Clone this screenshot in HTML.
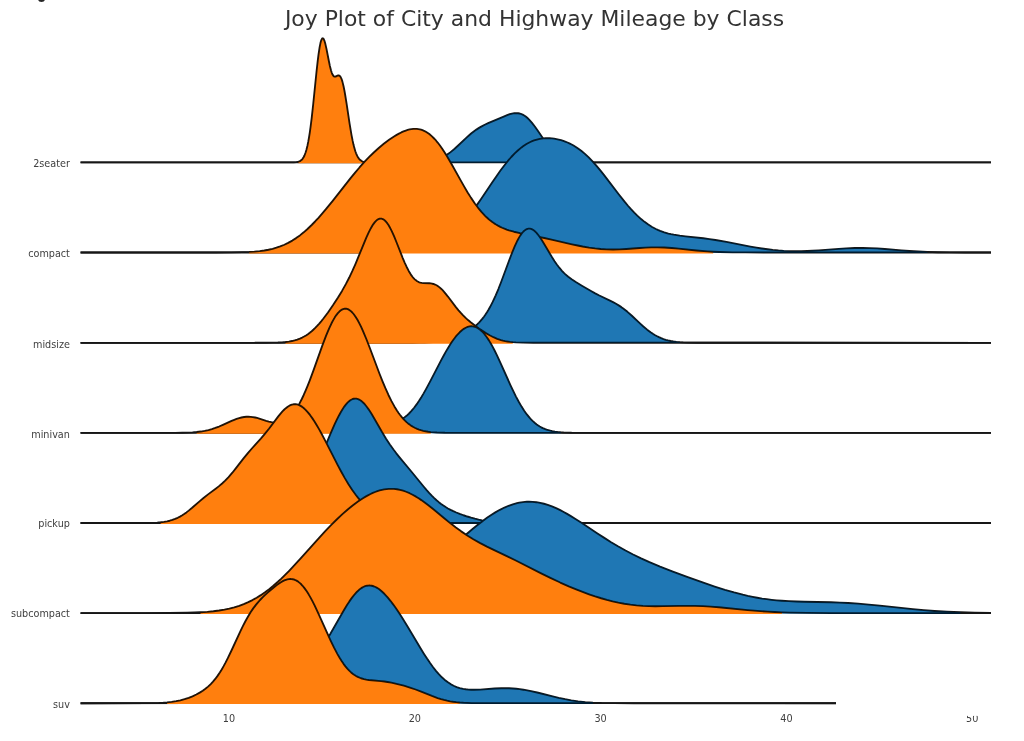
<!DOCTYPE html>
<html><head><meta charset="utf-8"><title>Joy Plot</title>
<style>
html,body{margin:0;padding:0;background:#fff;}
body{width:1024px;height:741px;overflow:hidden;font-family:"DejaVu Sans","Liberation Sans",sans-serif;}
svg{display:block}
svg text{font-family:"DejaVu Sans","Liberation Sans",sans-serif;font-size:11.1px;fill:#404040}
svg path.ln{fill:none;stroke:#161616;stroke-width:1.85;stroke-linejoin:round;stroke-linecap:butt;mix-blend-mode:luminosity}
svg text.title{font-size:21.9px;fill:#333}
</style></head><body>
<svg width="1024" height="741" viewBox="0 0 1024 741">
<rect width="1024" height="741" fill="#ffffff"/>
<text class="title" x="534.5" y="26.2" text-anchor="middle">Joy Plot of City and Highway Mileage by Class</text>
<g id="r-2seater"><path d="M427.04,161.61 430.08,161.19 432.74,160.68 435.39,160.02 437.67,159.31 439.95,158.45 442.22,157.41 444.50,156.21 446.78,154.82 448.67,153.53 450.57,152.12 454.37,148.99 458.16,145.54 466.51,137.63 469.17,135.24 471.44,133.32 474.10,131.23 476.38,129.60 479.03,127.88 481.69,126.35 484.73,124.78 488.14,123.21 503.70,116.54 507.12,115.15 509.77,114.22 512.05,113.60 514.33,113.21 516.23,113.11 518.12,113.24 519.64,113.52 521.16,113.99 522.68,114.65 524.20,115.50 525.71,116.55 527.23,117.79 529.13,119.59 531.79,122.56 534.82,126.47 537.48,130.21 544.31,140.17 546.59,143.33 548.48,145.80 550.76,148.55 552.66,150.63 554.56,152.50 556.45,154.17 558.35,155.63 560.63,157.12 562.90,158.35 565.18,159.35 567.46,160.13 570.11,160.83 572.77,161.34 575.81,161.74 L575.8,162.7 L427.0,162.7Z" fill="#1f77b4"/><path d="M80.56,162.40 403.13,162.39 411.86,162.34 417.94,162.21 422.87,161.98 427.04,161.61 430.08,161.19 432.74,160.68 435.39,160.02 437.67,159.31 439.95,158.45 442.22,157.41 444.50,156.21 446.78,154.82 448.67,153.53 450.57,152.12 454.37,148.99 458.16,145.54 466.51,137.63 469.17,135.24 471.44,133.32 474.10,131.23 476.38,129.60 479.03,127.88 481.69,126.35 484.73,124.78 488.14,123.21 503.70,116.54 507.12,115.15 509.77,114.22 512.05,113.60 514.33,113.21 516.23,113.11 518.12,113.24 519.64,113.52 521.16,113.99 522.68,114.65 524.20,115.50 525.71,116.55 527.23,117.79 529.13,119.59 531.79,122.56 534.82,126.47 537.48,130.21 544.31,140.17 546.59,143.33 548.48,145.80 550.76,148.55 552.66,150.63 554.56,152.50 556.45,154.17 558.35,155.63 560.63,157.12 562.90,158.35 565.18,159.35 567.46,160.13 570.11,160.83 572.77,161.34 575.81,161.74 579.60,162.05 584.16,162.25 590.23,162.35 598.96,162.39 990.98,162.40" class="ln"/><path d="M298.39,161.71 299.15,161.45 299.91,161.10 300.67,160.63 301.43,160.03 302.57,158.79 303.71,157.03 304.46,155.49 305.60,152.53 306.36,150.04 307.50,145.42 308.26,141.69 309.02,137.41 309.78,132.57 310.54,127.15 311.68,118.02 313.19,104.25 316.61,70.76 317.75,60.61 318.51,54.61 319.64,47.13 320.40,43.32 320.78,41.81 321.16,40.56 321.54,39.59 321.92,38.89 322.30,38.46 322.68,38.30 323.06,38.40 323.44,38.76 323.82,39.36 324.58,41.21 325.34,43.85 326.48,48.88 328.75,60.54 329.89,65.96 331.03,70.45 331.79,72.79 332.17,73.74 332.55,74.55 333.31,75.75 333.69,76.15 334.07,76.42 334.45,76.59 334.82,76.65 335.58,76.54 337.48,75.66 338.24,75.43 338.62,75.41 339.00,75.48 339.38,75.64 339.76,75.91 340.14,76.31 340.52,76.83 341.28,78.30 342.04,80.37 342.41,81.62 343.55,86.26 344.31,90.02 345.07,94.23 346.59,103.69 349.63,123.82 351.52,135.12 352.66,140.92 353.42,144.33 354.18,147.36 355.32,151.19 356.08,153.31 357.22,155.89 357.97,157.26 359.11,158.87 360.25,160.03 361.39,160.84 362.15,161.24 362.91,161.54 L362.9,163.3 L298.4,163.3Z" fill="#ff7f0e"/><path d="M80.56,162.40 290.04,162.39 293.84,162.32 296.50,162.11 298.39,161.71 299.15,161.45 299.91,161.10 300.67,160.63 301.43,160.03 302.57,158.79 303.71,157.03 304.46,155.49 305.60,152.53 306.36,150.04 307.50,145.42 308.26,141.69 309.02,137.41 309.78,132.57 310.54,127.15 311.68,118.02 313.19,104.25 316.61,70.76 317.75,60.61 318.51,54.61 319.64,47.13 320.40,43.32 320.78,41.81 321.16,40.56 321.54,39.59 321.92,38.89 322.30,38.46 322.68,38.30 323.06,38.40 323.44,38.76 323.82,39.36 324.58,41.21 325.34,43.85 326.48,48.88 328.75,60.54 329.89,65.96 331.03,70.45 331.79,72.79 332.17,73.74 332.55,74.55 333.31,75.75 333.69,76.15 334.07,76.42 334.45,76.59 334.82,76.65 335.58,76.54 337.48,75.66 338.24,75.43 338.62,75.41 339.00,75.48 339.38,75.64 339.76,75.91 340.14,76.31 340.52,76.83 341.28,78.30 342.04,80.37 342.41,81.62 343.55,86.26 344.31,90.02 345.07,94.23 346.59,103.69 349.63,123.82 351.52,135.12 352.66,140.92 353.42,144.33 354.18,147.36 355.32,151.19 356.08,153.31 357.22,155.89 357.97,157.26 359.11,158.87 360.25,160.03 361.39,160.84 362.15,161.24 362.91,161.54 364.43,161.95 365.94,162.17 368.22,162.32 375.43,162.40 990.98,162.40" class="ln"/></g><g id="r-compact"><path d="M399.34,251.75 404.65,251.37 409.59,250.87 414.14,250.26 418.31,249.53 422.49,248.62 425.15,247.92 427.80,247.12 430.46,246.22 432.74,245.35 435.01,244.38 437.29,243.31 439.57,242.14 441.84,240.85 444.12,239.45 446.40,237.93 448.67,236.27 450.57,234.80 452.85,232.91 455.13,230.88 457.02,229.08 459.30,226.81 462.72,223.14 466.51,218.72 470.31,213.97 474.10,208.92 477.52,204.15 480.93,199.22 492.32,182.28 496.49,176.17 500.29,170.81 504.08,165.71 507.88,160.96 511.29,157.01 514.71,153.42 518.12,150.22 521.54,147.40 523.06,146.28 524.95,144.99 526.47,144.05 528.37,142.98 530.27,142.02 532.16,141.18 534.06,140.46 535.96,139.84 537.86,139.33 539.75,138.92 541.65,138.60 543.55,138.38 545.45,138.24 547.72,138.19 549.62,138.24 551.90,138.40 554.18,138.68 556.45,139.06 558.73,139.55 561.01,140.16 563.28,140.87 565.18,141.56 567.46,142.49 569.36,143.35 571.63,144.50 573.53,145.56 575.81,146.95 577.70,148.22 581.50,151.03 584.92,153.89 588.71,157.43 592.51,161.33 596.30,165.57 600.10,170.09 603.89,174.84 618.69,194.27 624.76,201.93 628.18,205.99 631.21,209.42 634.25,212.64 637.29,215.65 641.08,219.08 644.50,221.86 648.29,224.59 652.09,226.96 655.88,228.98 657.78,229.86 660.06,230.83 664.23,232.33 668.41,233.53 671.06,234.16 673.72,234.70 679.79,235.68 685.48,236.38 703.32,238.27 709.39,239.06 715.46,239.97 726.47,241.91 750.38,246.57 756.45,247.64 761.76,248.48 767.45,249.27 772.77,249.90 778.46,250.43 783.77,250.80 789.47,251.06 795.16,251.18 801.23,251.17 807.30,251.01 812.62,250.77 818.69,250.40 838.80,248.84 846.39,248.34 854.74,247.99 862.71,247.92 869.54,248.07 877.13,248.45 884.72,248.99 901.42,250.39 909.39,250.99 918.12,251.52 927.22,251.93 L927.2,252.8 L399.3,252.8Z" fill="#1f77b4"/><path d="M80.56,252.50 345.07,252.50 365.18,252.47 378.09,252.38 386.44,252.25 393.27,252.04 399.34,251.75 404.65,251.37 409.59,250.87 414.14,250.26 418.31,249.53 422.49,248.62 425.15,247.92 427.80,247.12 430.46,246.22 432.74,245.35 435.01,244.38 437.29,243.31 439.57,242.14 441.84,240.85 444.12,239.45 446.40,237.93 448.67,236.27 450.57,234.80 452.85,232.91 455.13,230.88 457.02,229.08 459.30,226.81 462.72,223.14 466.51,218.72 470.31,213.97 474.10,208.92 477.52,204.15 480.93,199.22 492.32,182.28 496.49,176.17 500.29,170.81 504.08,165.71 507.88,160.96 511.29,157.01 514.71,153.42 518.12,150.22 521.54,147.40 523.06,146.28 524.95,144.99 526.47,144.05 528.37,142.98 530.27,142.02 532.16,141.18 534.06,140.46 535.96,139.84 537.86,139.33 539.75,138.92 541.65,138.60 543.55,138.38 545.45,138.24 547.72,138.19 549.62,138.24 551.90,138.40 554.18,138.68 556.45,139.06 558.73,139.55 561.01,140.16 563.28,140.87 565.18,141.56 567.46,142.49 569.36,143.35 571.63,144.50 573.53,145.56 575.81,146.95 577.70,148.22 581.50,151.03 584.92,153.89 588.71,157.43 592.51,161.33 596.30,165.57 600.10,170.09 603.89,174.84 618.69,194.27 624.76,201.93 628.18,205.99 631.21,209.42 634.25,212.64 637.29,215.65 641.08,219.08 644.50,221.86 648.29,224.59 652.09,226.96 655.88,228.98 657.78,229.86 660.06,230.83 664.23,232.33 668.41,233.53 671.06,234.16 673.72,234.70 679.79,235.68 685.48,236.38 703.32,238.27 709.39,239.06 715.46,239.97 726.47,241.91 750.38,246.57 756.45,247.64 761.76,248.48 767.45,249.27 772.77,249.90 778.46,250.43 783.77,250.80 789.47,251.06 795.16,251.18 801.23,251.17 807.30,251.01 812.62,250.77 818.69,250.40 838.80,248.84 846.39,248.34 854.74,247.99 862.71,247.92 869.54,248.07 877.13,248.45 884.72,248.99 901.42,250.39 909.39,250.99 918.12,251.52 927.22,251.93 937.85,252.22 949.99,252.39 965.55,252.47 990.98,252.50" class="ln"/><path d="M249.06,251.93 254.37,251.59 259.68,251.08 264.24,250.47 268.41,249.73 272.59,248.79 276.38,247.72 280.18,246.44 284.35,244.74 288.15,242.91 292.32,240.57 296.12,238.12 299.91,235.38 303.71,232.33 307.50,228.99 311.68,224.99 315.09,221.49 318.51,217.79 321.92,213.91 325.72,209.44 332.93,200.55 350.38,178.41 355.32,172.39 359.49,167.49 364.43,161.98 368.98,157.20 373.53,152.72 378.47,148.23 381.12,145.97 383.78,143.81 386.44,141.75 389.09,139.80 391.75,137.97 394.03,136.49 396.68,134.88 398.96,133.62 401.24,132.46 403.51,131.44 405.79,130.55 407.69,129.94 409.59,129.45 411.48,129.08 413.38,128.86 415.28,128.80 416.80,128.87 418.31,129.05 419.83,129.34 420.97,129.64 422.49,130.15 424.01,130.79 425.53,131.56 426.66,132.22 428.18,133.23 429.32,134.07 431.98,136.34 434.63,139.01 436.15,140.72 437.67,142.56 439.95,145.53 442.22,148.76 444.50,152.21 447.16,156.48 452.09,164.95 460.82,180.62 464.23,186.63 467.65,192.41 471.07,197.87 474.86,203.48 478.28,208.07 481.69,212.19 485.11,215.83 486.62,217.30 488.52,219.01 490.42,220.59 492.32,222.04 494.21,223.36 496.11,224.57 498.01,225.67 500.29,226.85 502.18,227.74 504.46,228.70 506.74,229.55 509.02,230.32 513.95,231.73 520.02,233.15 537.48,236.61 544.31,238.02 552.66,239.86 572.01,244.30 577.70,245.52 582.64,246.50 589.09,247.61 595.16,248.44 600.85,249.01 606.55,249.36 613.00,249.48 619.45,249.34 626.28,248.98 639.56,248.00 645.26,247.64 651.33,247.40 657.40,247.35 664.23,247.54 671.82,248.03 678.65,248.66 696.49,250.50 707.49,251.39 713.19,251.73 L713.2,253.4 L249.1,253.4Z" fill="#ff7f0e"/><path d="M80.56,252.50 215.66,252.49 231.60,252.40 242.61,252.19 249.06,251.93 254.37,251.59 259.68,251.08 264.24,250.47 268.41,249.73 272.59,248.79 276.38,247.72 280.18,246.44 284.35,244.74 288.15,242.91 292.32,240.57 296.12,238.12 299.91,235.38 303.71,232.33 307.50,228.99 311.68,224.99 315.09,221.49 318.51,217.79 321.92,213.91 325.72,209.44 332.93,200.55 350.38,178.41 355.32,172.39 359.49,167.49 364.43,161.98 368.98,157.20 373.53,152.72 378.47,148.23 381.12,145.97 383.78,143.81 386.44,141.75 389.09,139.80 391.75,137.97 394.03,136.49 396.68,134.88 398.96,133.62 401.24,132.46 403.51,131.44 405.79,130.55 407.69,129.94 409.59,129.45 411.48,129.08 413.38,128.86 415.28,128.80 416.80,128.87 418.31,129.05 419.83,129.34 420.97,129.64 422.49,130.15 424.01,130.79 425.53,131.56 426.66,132.22 428.18,133.23 429.32,134.07 431.98,136.34 434.63,139.01 436.15,140.72 437.67,142.56 439.95,145.53 442.22,148.76 444.50,152.21 447.16,156.48 452.09,164.95 460.82,180.62 464.23,186.63 467.65,192.41 471.07,197.87 474.86,203.48 478.28,208.07 481.69,212.19 485.11,215.83 486.62,217.30 488.52,219.01 490.42,220.59 492.32,222.04 494.21,223.36 496.11,224.57 498.01,225.67 500.29,226.85 502.18,227.74 504.46,228.70 506.74,229.55 509.02,230.32 513.95,231.73 520.02,233.15 537.48,236.61 544.31,238.02 552.66,239.86 572.01,244.30 577.70,245.52 582.64,246.50 589.09,247.61 595.16,248.44 600.85,249.01 606.55,249.36 613.00,249.48 619.45,249.34 626.28,248.98 639.56,248.00 645.26,247.64 651.33,247.40 657.40,247.35 664.23,247.54 671.82,248.03 678.65,248.66 696.49,250.50 707.49,251.39 713.19,251.73 719.26,252.00 732.54,252.33 745.44,252.45 764.80,252.49 990.98,252.50" class="ln"/></g><g id="r-midsize"><path d="M433.12,341.96 436.91,341.54 440.71,340.98 444.12,340.33 447.54,339.55 450.57,338.72 453.23,337.89 456.26,336.82 458.92,335.78 461.58,334.62 464.23,333.34 466.89,331.92 469.17,330.56 471.44,329.06 473.34,327.67 475.24,326.14 477.14,324.46 479.03,322.59 480.55,320.94 482.45,318.69 483.97,316.72 485.49,314.57 487.00,312.26 488.52,309.76 490.04,307.08 492.70,301.93 495.73,295.35 498.39,289.02 501.05,282.26 509.02,260.73 512.05,252.80 514.71,246.40 516.23,243.05 517.36,240.72 518.88,237.89 520.40,235.39 521.92,233.25 523.44,231.50 524.95,230.16 526.09,229.42 526.85,229.06 527.61,228.80 528.37,228.64 529.13,228.59 529.89,228.63 531.03,228.89 532.16,229.35 533.30,230.03 534.06,230.58 535.20,231.57 536.34,232.72 537.48,234.03 539.75,237.05 542.03,240.50 544.31,244.22 551.90,257.05 554.56,261.20 556.83,264.49 559.49,267.97 562.15,271.04 563.66,272.63 565.18,274.10 568.22,276.73 571.63,279.29 575.81,282.05 581.88,285.71 590.99,291.02 595.16,293.34 599.34,295.52 609.96,300.63 613.00,302.14 616.03,303.79 619.07,305.63 621.35,307.14 623.24,308.51 625.14,309.97 627.42,311.83 631.59,315.51 639.94,323.34 643.36,326.44 647.15,329.64 650.57,332.24 652.85,333.79 654.74,334.97 656.64,336.04 658.92,337.19 661.19,338.19 663.47,339.05 665.75,339.78 668.03,340.40 670.68,340.99 673.34,341.45 676.37,341.86 679.79,342.18 L679.8,343.1 L433.1,343.1Z" fill="#1f77b4"/><path d="M80.56,342.80 390.61,342.80 413.00,342.75 419.07,342.66 424.39,342.51 428.94,342.28 433.12,341.96 436.91,341.54 440.71,340.98 444.12,340.33 447.54,339.55 450.57,338.72 453.23,337.89 456.26,336.82 458.92,335.78 461.58,334.62 464.23,333.34 466.89,331.92 469.17,330.56 471.44,329.06 473.34,327.67 475.24,326.14 477.14,324.46 479.03,322.59 480.55,320.94 482.45,318.69 483.97,316.72 485.49,314.57 487.00,312.26 488.52,309.76 490.04,307.08 492.70,301.93 495.73,295.35 498.39,289.02 501.05,282.26 509.02,260.73 512.05,252.80 514.71,246.40 516.23,243.05 517.36,240.72 518.88,237.89 520.40,235.39 521.92,233.25 523.44,231.50 524.95,230.16 526.09,229.42 526.85,229.06 527.61,228.80 528.37,228.64 529.13,228.59 529.89,228.63 531.03,228.89 532.16,229.35 533.30,230.03 534.06,230.58 535.20,231.57 536.34,232.72 537.48,234.03 539.75,237.05 542.03,240.50 544.31,244.22 551.90,257.05 554.56,261.20 556.83,264.49 559.49,267.97 562.15,271.04 563.66,272.63 565.18,274.10 568.22,276.73 571.63,279.29 575.81,282.05 581.88,285.71 590.99,291.02 595.16,293.34 599.34,295.52 609.96,300.63 613.00,302.14 616.03,303.79 619.07,305.63 621.35,307.14 623.24,308.51 625.14,309.97 627.42,311.83 631.59,315.51 639.94,323.34 643.36,326.44 647.15,329.64 650.57,332.24 652.85,333.79 654.74,334.97 656.64,336.04 658.92,337.19 661.19,338.19 663.47,339.05 665.75,339.78 668.03,340.40 670.68,340.99 673.34,341.45 676.37,341.86 679.79,342.18 683.21,342.41 687.38,342.58 697.63,342.76 990.98,342.80" class="ln"/><path d="M285.49,342.02 288.91,341.58 291.94,341.03 294.60,340.39 297.25,339.59 299.91,338.58 302.19,337.55 304.09,336.55 305.98,335.42 307.88,334.16 309.78,332.75 311.68,331.20 313.57,329.50 315.47,327.66 317.37,325.68 319.27,323.57 321.16,321.34 323.44,318.51 327.99,312.43 332.93,305.34 337.86,297.78 342.04,290.92 345.83,284.16 349.25,277.53 352.28,271.13 355.32,264.27 357.97,257.94 364.05,243.05 366.32,237.68 368.60,232.67 370.88,228.20 372.40,225.59 373.53,223.87 374.67,222.37 375.81,221.10 376.57,220.39 377.33,219.79 378.47,219.12 379.61,218.72 380.74,218.60 381.50,218.68 382.64,219.03 383.78,219.65 384.92,220.56 386.06,221.73 387.20,223.16 388.33,224.83 389.47,226.73 390.61,228.84 391.75,231.13 394.03,236.20 396.30,241.74 402.76,258.09 404.65,262.58 406.55,266.74 408.83,271.18 410.72,274.34 412.62,276.99 413.38,277.89 414.52,279.10 415.66,280.12 417.18,281.21 418.69,282.01 420.21,282.57 421.73,282.91 423.25,283.10 429.32,283.26 430.84,283.41 431.98,283.59 433.49,283.98 435.01,284.53 436.53,285.28 438.05,286.22 439.57,287.37 441.08,288.70 442.60,290.22 444.50,292.32 447.92,296.56 455.89,307.09 458.54,310.36 460.82,312.98 463.10,315.41 465.37,317.66 468.03,320.08 470.69,322.32 475.24,325.85 480.55,329.63 485.49,332.86 489.66,335.29 493.46,337.21 497.25,338.81 501.05,340.07 502.94,340.58 505.22,341.09 507.50,341.51 510.15,341.89 512.81,342.17 L512.8,343.7 L285.5,343.7Z" fill="#ff7f0e"/><path d="M80.56,342.80 253.99,342.80 265.76,342.77 272.97,342.69 277.90,342.54 282.07,342.31 285.49,342.02 288.91,341.58 291.94,341.03 294.60,340.39 297.25,339.59 299.91,338.58 302.19,337.55 304.09,336.55 305.98,335.42 307.88,334.16 309.78,332.75 311.68,331.20 313.57,329.50 315.47,327.66 317.37,325.68 319.27,323.57 321.16,321.34 323.44,318.51 327.99,312.43 332.93,305.34 337.86,297.78 342.04,290.92 345.83,284.16 349.25,277.53 352.28,271.13 355.32,264.27 357.97,257.94 364.05,243.05 366.32,237.68 368.60,232.67 370.88,228.20 372.40,225.59 373.53,223.87 374.67,222.37 375.81,221.10 376.57,220.39 377.33,219.79 378.47,219.12 379.61,218.72 380.74,218.60 381.50,218.68 382.64,219.03 383.78,219.65 384.92,220.56 386.06,221.73 387.20,223.16 388.33,224.83 389.47,226.73 390.61,228.84 391.75,231.13 394.03,236.20 396.30,241.74 402.76,258.09 404.65,262.58 406.55,266.74 408.83,271.18 410.72,274.34 412.62,276.99 413.38,277.89 414.52,279.10 415.66,280.12 417.18,281.21 418.69,282.01 420.21,282.57 421.73,282.91 423.25,283.10 429.32,283.26 430.84,283.41 431.98,283.59 433.49,283.98 435.01,284.53 436.53,285.28 438.05,286.22 439.57,287.37 441.08,288.70 442.60,290.22 444.50,292.32 447.92,296.56 455.89,307.09 458.54,310.36 460.82,312.98 463.10,315.41 465.37,317.66 468.03,320.08 470.69,322.32 475.24,325.85 480.55,329.63 485.49,332.86 489.66,335.29 493.46,337.21 497.25,338.81 501.05,340.07 502.94,340.58 505.22,341.09 507.50,341.51 510.15,341.89 512.81,342.17 515.85,342.40 523.06,342.68 533.30,342.78 990.98,342.80" class="ln"/></g><g id="r-minivan"><path d="M300.29,432.25 306.36,431.71 312.05,430.92 317.37,429.89 321.92,428.75 326.86,427.27 331.41,425.71 340.90,422.28 345.83,420.68 348.49,419.96 350.76,419.43 353.04,419.01 355.32,418.70 357.97,418.50 360.63,418.45 363.29,418.57 365.94,418.83 368.22,419.16 370.88,419.64 381.50,421.85 384.16,422.26 386.44,422.50 389.09,422.60 391.37,422.50 393.65,422.20 395.92,421.69 397.44,421.21 398.58,420.78 400.10,420.10 401.24,419.51 402.76,418.62 403.89,417.86 406.55,415.82 408.83,413.74 411.48,410.94 414.14,407.74 416.80,404.15 419.07,400.79 421.35,397.18 423.63,393.36 425.90,389.34 430.46,380.86 441.08,360.35 443.74,355.44 446.02,351.39 448.67,346.91 450.95,343.32 453.23,340.00 455.51,336.97 457.78,334.27 459.68,332.29 461.96,330.25 463.85,328.86 465.75,327.75 467.65,326.94 469.55,326.44 471.44,326.27 472.58,326.32 473.72,326.49 474.86,326.79 476.00,327.20 477.90,328.17 479.03,328.92 480.17,329.78 482.07,331.50 484.35,334.00 486.62,336.97 488.90,340.37 490.80,343.51 492.70,346.91 494.59,350.54 496.87,355.15 500.67,363.31 510.53,385.32 513.19,390.97 515.85,396.34 518.88,402.05 521.54,406.62 524.20,410.76 526.85,414.46 529.51,417.71 531.03,419.38 532.54,420.90 535.20,423.26 536.72,424.44 538.24,425.50 539.75,426.46 541.27,427.31 542.79,428.07 544.69,428.90 546.59,429.60 548.48,430.20 550.38,430.70 552.28,431.12 554.93,431.59 557.59,431.95 560.63,432.25 L560.6,433.2 L300.3,433.2Z" fill="#1f77b4"/><path d="M80.56,432.90 268.03,432.89 283.59,432.81 293.46,432.59 300.29,432.25 306.36,431.71 312.05,430.92 317.37,429.89 321.92,428.75 326.86,427.27 331.41,425.71 340.90,422.28 345.83,420.68 348.49,419.96 350.76,419.43 353.04,419.01 355.32,418.70 357.97,418.50 360.63,418.45 363.29,418.57 365.94,418.83 368.22,419.16 370.88,419.64 381.50,421.85 384.16,422.26 386.44,422.50 389.09,422.60 391.37,422.50 393.65,422.20 395.92,421.69 397.44,421.21 398.58,420.78 400.10,420.10 401.24,419.51 402.76,418.62 403.89,417.86 406.55,415.82 408.83,413.74 411.48,410.94 414.14,407.74 416.80,404.15 419.07,400.79 421.35,397.18 423.63,393.36 425.90,389.34 430.46,380.86 441.08,360.35 443.74,355.44 446.02,351.39 448.67,346.91 450.95,343.32 453.23,340.00 455.51,336.97 457.78,334.27 459.68,332.29 461.96,330.25 463.85,328.86 465.75,327.75 467.65,326.94 469.55,326.44 471.44,326.27 472.58,326.32 473.72,326.49 474.86,326.79 476.00,327.20 477.90,328.17 479.03,328.92 480.17,329.78 482.07,331.50 484.35,334.00 486.62,336.97 488.90,340.37 490.80,343.51 492.70,346.91 494.59,350.54 496.87,355.15 500.67,363.31 510.53,385.32 513.19,390.97 515.85,396.34 518.88,402.05 521.54,406.62 524.20,410.76 526.85,414.46 529.51,417.71 531.03,419.38 532.54,420.90 535.20,423.26 536.72,424.44 538.24,425.50 539.75,426.46 541.27,427.31 542.79,428.07 544.69,428.90 546.59,429.60 548.48,430.20 550.38,430.70 552.28,431.12 554.93,431.59 557.59,431.95 560.63,432.25 563.66,432.46 571.63,432.76 583.02,432.88 990.98,432.90" class="ln"/><path d="M196.69,432.04 200.86,431.54 204.66,430.91 208.45,430.07 211.87,429.12 215.28,427.98 219.08,426.52 222.87,424.88 231.60,420.90 234.26,419.78 236.53,418.92 239.19,418.06 241.47,417.48 244.12,417.00 246.40,416.77 248.30,416.72 250.58,416.83 252.85,417.10 255.13,417.52 257.03,417.97 259.30,418.61 266.14,420.79 268.79,421.57 271.45,422.21 274.10,422.63 275.62,422.74 276.76,422.76 278.28,422.67 279.42,422.52 280.56,422.30 281.69,421.99 282.83,421.59 283.97,421.09 285.11,420.51 286.25,419.82 287.39,419.02 288.53,418.12 289.66,417.11 290.80,415.98 293.08,413.38 295.36,410.31 297.25,407.38 299.53,403.43 301.81,399.01 303.71,394.99 305.60,390.69 307.50,386.11 309.78,380.32 313.57,370.10 322.30,345.67 326.10,335.68 327.99,331.05 329.51,327.57 331.41,323.54 332.93,320.61 334.82,317.34 336.34,315.07 337.86,313.13 339.38,311.53 340.90,310.27 342.41,309.38 343.17,309.07 343.93,308.86 344.69,308.73 345.45,308.70 346.21,308.76 346.97,308.91 347.73,309.15 348.87,309.69 350.38,310.71 351.14,311.35 352.28,312.48 353.80,314.26 355.70,316.93 357.59,320.05 359.49,323.58 361.01,326.67 362.91,330.83 366.32,339.00 369.74,347.77 379.61,373.98 382.64,381.64 385.30,387.98 388.33,394.73 391.37,400.88 394.41,406.41 397.06,410.70 398.58,412.93 400.10,415.00 401.62,416.91 403.51,419.09 405.03,420.67 406.55,422.10 408.07,423.41 409.97,424.86 411.48,425.90 413.38,427.03 415.28,428.02 417.18,428.86 419.07,429.58 420.97,430.19 423.25,430.80 425.53,431.28 428.18,431.72 430.84,432.05 L430.8,433.8 L196.7,433.8Z" fill="#ff7f0e"/><path d="M80.56,432.90 175.43,432.86 182.27,432.77 187.96,432.61 192.51,432.38 196.69,432.04 200.86,431.54 204.66,430.91 208.45,430.07 211.87,429.12 215.28,427.98 219.08,426.52 222.87,424.88 231.60,420.90 234.26,419.78 236.53,418.92 239.19,418.06 241.47,417.48 244.12,417.00 246.40,416.77 248.30,416.72 250.58,416.83 252.85,417.10 255.13,417.52 257.03,417.97 259.30,418.61 266.14,420.79 268.79,421.57 271.45,422.21 274.10,422.63 275.62,422.74 276.76,422.76 278.28,422.67 279.42,422.52 280.56,422.30 281.69,421.99 282.83,421.59 283.97,421.09 285.11,420.51 286.25,419.82 287.39,419.02 288.53,418.12 289.66,417.11 290.80,415.98 293.08,413.38 295.36,410.31 297.25,407.38 299.53,403.43 301.81,399.01 303.71,394.99 305.60,390.69 307.50,386.11 309.78,380.32 313.57,370.10 322.30,345.67 326.10,335.68 327.99,331.05 329.51,327.57 331.41,323.54 332.93,320.61 334.82,317.34 336.34,315.07 337.86,313.13 339.38,311.53 340.90,310.27 342.41,309.38 343.17,309.07 343.93,308.86 344.69,308.73 345.45,308.70 346.21,308.76 346.97,308.91 347.73,309.15 348.87,309.69 350.38,310.71 351.14,311.35 352.28,312.48 353.80,314.26 355.70,316.93 357.59,320.05 359.49,323.58 361.01,326.67 362.91,330.83 366.32,339.00 369.74,347.77 379.61,373.98 382.64,381.64 385.30,387.98 388.33,394.73 391.37,400.88 394.41,406.41 397.06,410.70 398.58,412.93 400.10,415.00 401.62,416.91 403.51,419.09 405.03,420.67 406.55,422.10 408.07,423.41 409.97,424.86 411.48,425.90 413.38,427.03 415.28,428.02 417.18,428.86 419.07,429.58 420.97,430.19 423.25,430.80 425.53,431.28 428.18,431.72 430.84,432.05 433.87,432.33 436.91,432.52 444.88,432.78 456.64,432.88 990.98,432.90" class="ln"/></g><g id="r-pickup"><path d="M209.59,522.45 213.76,522.08 218.70,521.39 220.97,520.95 223.25,520.43 225.53,519.80 227.43,519.21 229.70,518.39 231.60,517.62 235.02,516.05 238.81,514.04 242.23,512.05 250.20,507.19 253.99,505.06 256.27,503.93 258.17,503.11 260.06,502.39 261.96,501.80 263.86,501.35 265.76,501.02 267.65,500.82 269.93,500.73 273.35,500.86 281.32,501.58 283.21,501.65 285.11,501.61 287.01,501.42 288.91,501.05 290.80,500.48 292.32,499.86 293.46,499.28 294.60,498.62 295.74,497.85 296.87,496.98 299.15,494.94 301.05,492.91 302.95,490.59 305.22,487.42 307.50,483.85 309.78,479.91 311.68,476.36 313.57,472.60 315.47,468.64 317.75,463.66 321.92,454.08 330.65,433.38 334.82,423.97 337.10,419.18 339.00,415.45 340.90,411.99 342.41,409.46 344.31,406.60 345.83,404.60 347.35,402.86 348.87,401.41 350.00,400.51 350.76,400.00 352.28,399.22 353.80,398.75 355.32,398.60 356.46,398.69 357.97,399.08 359.11,399.57 360.63,400.48 361.77,401.35 363.29,402.74 364.43,403.94 365.94,405.74 367.08,407.23 368.60,409.37 371.64,414.09 374.67,419.21 381.88,431.79 386.06,438.69 389.85,444.48 393.65,449.81 396.30,453.30 399.72,457.57 411.10,471.24 424.01,486.99 426.66,490.10 429.32,493.07 431.98,495.87 434.25,498.12 436.53,500.22 438.81,502.17 441.08,503.96 443.36,505.59 445.64,507.08 447.92,508.44 450.57,509.88 453.23,511.17 456.26,512.51 459.68,513.88 463.48,515.25 467.27,516.51 471.07,517.65 474.86,518.68 478.66,519.59 482.07,520.31 485.87,520.98 489.66,521.53 493.84,522.00 498.01,522.34 L498.0,523.3 L209.6,523.3Z" fill="#1f77b4"/><path d="M80.56,523.00 192.13,522.96 199.34,522.87 205.04,522.70 209.59,522.45 213.76,522.08 218.70,521.39 220.97,520.95 223.25,520.43 225.53,519.80 227.43,519.21 229.70,518.39 231.60,517.62 235.02,516.05 238.81,514.04 242.23,512.05 250.20,507.19 253.99,505.06 256.27,503.93 258.17,503.11 260.06,502.39 261.96,501.80 263.86,501.35 265.76,501.02 267.65,500.82 269.93,500.73 273.35,500.86 281.32,501.58 283.21,501.65 285.11,501.61 287.01,501.42 288.91,501.05 290.80,500.48 292.32,499.86 293.46,499.28 294.60,498.62 295.74,497.85 296.87,496.98 299.15,494.94 301.05,492.91 302.95,490.59 305.22,487.42 307.50,483.85 309.78,479.91 311.68,476.36 313.57,472.60 315.47,468.64 317.75,463.66 321.92,454.08 330.65,433.38 334.82,423.97 337.10,419.18 339.00,415.45 340.90,411.99 342.41,409.46 344.31,406.60 345.83,404.60 347.35,402.86 348.87,401.41 350.00,400.51 350.76,400.00 352.28,399.22 353.80,398.75 355.32,398.60 356.46,398.69 357.97,399.08 359.11,399.57 360.63,400.48 361.77,401.35 363.29,402.74 364.43,403.94 365.94,405.74 367.08,407.23 368.60,409.37 371.64,414.09 374.67,419.21 381.88,431.79 386.06,438.69 389.85,444.48 393.65,449.81 396.30,453.30 399.72,457.57 411.10,471.24 424.01,486.99 426.66,490.10 429.32,493.07 431.98,495.87 434.25,498.12 436.53,500.22 438.81,502.17 441.08,503.96 443.36,505.59 445.64,507.08 447.92,508.44 450.57,509.88 453.23,511.17 456.26,512.51 459.68,513.88 463.48,515.25 467.27,516.51 471.07,517.65 474.86,518.68 478.66,519.59 482.07,520.31 485.87,520.98 489.66,521.53 493.84,522.00 498.01,522.34 502.56,522.60 507.50,522.78 520.78,522.97 990.98,523.00" class="ln"/><path d="M160.63,522.29 164.05,521.87 167.09,521.34 169.74,520.73 172.40,519.95 175.06,518.97 177.71,517.79 179.99,516.61 181.89,515.49 184.16,514.02 186.44,512.39 188.72,510.63 192.13,507.81 200.10,500.88 203.52,498.00 208.07,494.38 215.66,488.72 218.70,486.37 222.11,483.51 225.15,480.68 228.56,477.12 232.36,472.72 235.78,468.45 243.74,458.18 248.30,452.61 252.09,448.25 260.82,438.62 264.62,434.19 269.17,428.48 278.28,416.42 280.56,413.62 282.45,411.46 284.35,409.52 285.87,408.15 287.39,406.95 288.91,405.96 290.42,405.18 291.94,404.62 293.46,404.29 294.98,404.20 295.74,404.24 296.87,404.41 298.01,404.71 299.15,405.14 301.05,406.13 302.19,406.88 303.33,407.76 305.60,409.84 307.88,412.32 310.16,415.18 312.43,418.38 314.33,421.26 316.61,424.96 318.89,428.89 321.16,433.00 325.72,441.64 337.86,465.43 341.28,471.81 344.69,477.88 348.49,484.18 352.28,489.97 356.08,495.21 357.97,497.64 359.87,499.92 361.77,502.08 364.05,504.49 365.94,506.37 368.22,508.45 370.12,510.05 372.40,511.82 374.29,513.16 376.57,514.63 378.47,515.73 380.74,516.91 383.02,517.95 385.30,518.85 387.58,519.63 390.23,520.39 392.51,520.93 395.17,521.44 397.82,521.85 400.48,522.16 L400.5,523.9 L160.6,523.9Z" fill="#ff7f0e"/><path d="M80.56,523.00 141.66,522.97 150.77,522.84 157.22,522.57 160.63,522.29 164.05,521.87 167.09,521.34 169.74,520.73 172.40,519.95 175.06,518.97 177.71,517.79 179.99,516.61 181.89,515.49 184.16,514.02 186.44,512.39 188.72,510.63 192.13,507.81 200.10,500.88 203.52,498.00 208.07,494.38 215.66,488.72 218.70,486.37 222.11,483.51 225.15,480.68 228.56,477.12 232.36,472.72 235.78,468.45 243.74,458.18 248.30,452.61 252.09,448.25 260.82,438.62 264.62,434.19 269.17,428.48 278.28,416.42 280.56,413.62 282.45,411.46 284.35,409.52 285.87,408.15 287.39,406.95 288.91,405.96 290.42,405.18 291.94,404.62 293.46,404.29 294.98,404.20 295.74,404.24 296.87,404.41 298.01,404.71 299.15,405.14 301.05,406.13 302.19,406.88 303.33,407.76 305.60,409.84 307.88,412.32 310.16,415.18 312.43,418.38 314.33,421.26 316.61,424.96 318.89,428.89 321.16,433.00 325.72,441.64 337.86,465.43 341.28,471.81 344.69,477.88 348.49,484.18 352.28,489.97 356.08,495.21 357.97,497.64 359.87,499.92 361.77,502.08 364.05,504.49 365.94,506.37 368.22,508.45 370.12,510.05 372.40,511.82 374.29,513.16 376.57,514.63 378.47,515.73 380.74,516.91 383.02,517.95 385.30,518.85 387.58,519.63 390.23,520.39 392.51,520.93 395.17,521.44 397.82,521.85 400.48,522.16 403.51,522.43 406.93,522.64 414.90,522.89 426.66,522.99 990.98,523.00" class="ln"/></g><g id="r-subcompact"><path d="M303.71,612.30 312.43,611.87 320.40,611.30 327.99,610.58 334.82,609.73 341.66,608.67 348.11,607.44 354.56,605.97 361.39,604.11 364.81,603.05 368.22,601.91 371.64,600.69 375.05,599.37 381.50,596.62 387.95,593.53 391.37,591.76 394.79,589.89 401.24,586.10 408.07,581.73 413.76,577.82 419.45,573.68 425.53,569.03 431.60,564.17 436.91,559.76 442.98,554.59 467.27,533.45 472.58,528.98 477.52,524.98 482.45,521.16 487.00,517.85 491.18,515.01 495.35,512.38 499.91,509.80 504.46,507.54 508.64,505.77 512.81,504.30 516.98,503.16 519.26,502.67 521.16,502.35 524.95,501.90 526.85,501.78 529.13,501.72 532.54,501.83 536.34,502.21 540.13,502.86 543.93,503.76 547.72,504.90 551.90,506.41 556.07,508.18 560.25,510.18 563.66,511.96 567.08,513.86 570.87,516.09 574.67,518.42 581.88,523.06 597.06,533.17 603.89,537.64 611.10,542.18 617.93,546.27 625.52,550.53 633.11,554.51 641.08,558.37 649.43,562.13 660.06,566.58 672.20,571.34 687.76,577.14 703.32,582.70 714.70,586.57 724.95,589.83 734.06,592.47 742.79,594.72 747.72,595.86 752.65,596.88 757.21,597.73 762.14,598.55 766.70,599.20 771.63,599.80 776.56,600.31 781.88,600.75 788.71,601.17 796.30,601.49 804.27,601.71 830.83,602.25 839.94,602.58 848.29,603.00 858.16,603.66 868.78,604.56 879.79,605.65 912.80,609.15 923.81,610.16 934.43,610.97 946.96,611.73 960.24,612.29 L960.2,613.4 L303.7,613.4Z" fill="#1f77b4"/><path d="M80.56,613.10 250.96,613.07 276.00,612.94 293.84,612.63 303.71,612.30 312.43,611.87 320.40,611.30 327.99,610.58 334.82,609.73 341.66,608.67 348.11,607.44 354.56,605.97 361.39,604.11 364.81,603.05 368.22,601.91 371.64,600.69 375.05,599.37 381.50,596.62 387.95,593.53 391.37,591.76 394.79,589.89 401.24,586.10 408.07,581.73 413.76,577.82 419.45,573.68 425.53,569.03 431.60,564.17 436.91,559.76 442.98,554.59 467.27,533.45 472.58,528.98 477.52,524.98 482.45,521.16 487.00,517.85 491.18,515.01 495.35,512.38 499.91,509.80 504.46,507.54 508.64,505.77 512.81,504.30 516.98,503.16 519.26,502.67 521.16,502.35 524.95,501.90 526.85,501.78 529.13,501.72 532.54,501.83 536.34,502.21 540.13,502.86 543.93,503.76 547.72,504.90 551.90,506.41 556.07,508.18 560.25,510.18 563.66,511.96 567.08,513.86 570.87,516.09 574.67,518.42 581.88,523.06 597.06,533.17 603.89,537.64 611.10,542.18 617.93,546.27 625.52,550.53 633.11,554.51 641.08,558.37 649.43,562.13 660.06,566.58 672.20,571.34 687.76,577.14 703.32,582.70 714.70,586.57 724.95,589.83 734.06,592.47 742.79,594.72 747.72,595.86 752.65,596.88 757.21,597.73 762.14,598.55 766.70,599.20 771.63,599.80 776.56,600.31 781.88,600.75 788.71,601.17 796.30,601.49 804.27,601.71 830.83,602.25 839.94,602.58 848.29,603.00 858.16,603.66 868.78,604.56 879.79,605.65 912.80,609.15 923.81,610.16 934.43,610.97 946.96,611.73 960.24,612.29 974.66,612.68 990.98,612.92" class="ln"/><path d="M200.48,612.26 207.31,611.80 213.38,611.23 219.08,610.49 224.39,609.61 229.32,608.57 234.26,607.31 239.19,605.77 243.74,604.08 248.30,602.12 252.47,600.06 256.65,597.74 260.82,595.15 265.00,592.29 269.17,589.16 273.35,585.77 277.90,581.78 281.32,578.60 285.11,574.91 288.91,571.07 293.08,566.68 300.67,558.41 320.02,536.83 325.72,530.70 331.03,525.16 336.72,519.49 342.41,514.14 347.73,509.47 352.66,505.44 355.32,503.41 357.97,501.49 360.63,499.67 362.91,498.21 365.56,496.61 367.84,495.34 370.50,493.99 372.77,492.94 375.05,492.00 377.33,491.18 379.61,490.47 381.88,489.88 384.16,489.41 386.44,489.08 388.71,488.87 390.99,488.80 394.03,488.91 397.06,489.27 400.10,489.86 403.13,490.69 406.17,491.75 409.59,493.21 412.62,494.73 416.04,496.67 418.69,498.34 421.35,500.12 424.39,502.29 427.42,504.57 433.12,509.08 444.88,518.80 450.19,523.10 455.89,527.50 461.20,531.37 467.27,535.46 473.34,539.21 479.79,542.84 487.00,546.59 492.70,549.39 507.88,556.65 515.85,560.53 541.65,573.56 550.38,577.88 560.25,582.53 569.36,586.55 576.19,589.38 582.64,591.90 589.09,594.26 595.16,596.34 601.23,598.25 606.93,599.88 612.62,601.35 618.31,602.62 624.38,603.77 630.46,604.69 636.53,605.38 642.98,605.87 649.05,606.13 655.50,606.23 662.71,606.19 679.03,605.88 686.62,605.81 694.97,605.89 702.94,606.16 710.53,606.59 718.88,607.24 747.72,610.05 760.62,611.14 767.45,611.61 774.67,612.01 781.88,612.33 L781.9,614.0 L200.5,614.0Z" fill="#ff7f0e"/><path d="M80.56,613.10 145.07,613.09 169.36,613.02 187.20,612.77 194.41,612.54 200.48,612.26 207.31,611.80 213.38,611.23 219.08,610.49 224.39,609.61 229.32,608.57 234.26,607.31 239.19,605.77 243.74,604.08 248.30,602.12 252.47,600.06 256.65,597.74 260.82,595.15 265.00,592.29 269.17,589.16 273.35,585.77 277.90,581.78 281.32,578.60 285.11,574.91 288.91,571.07 293.08,566.68 300.67,558.41 320.02,536.83 325.72,530.70 331.03,525.16 336.72,519.49 342.41,514.14 347.73,509.47 352.66,505.44 355.32,503.41 357.97,501.49 360.63,499.67 362.91,498.21 365.56,496.61 367.84,495.34 370.50,493.99 372.77,492.94 375.05,492.00 377.33,491.18 379.61,490.47 381.88,489.88 384.16,489.41 386.44,489.08 388.71,488.87 390.99,488.80 394.03,488.91 397.06,489.27 400.10,489.86 403.13,490.69 406.17,491.75 409.59,493.21 412.62,494.73 416.04,496.67 418.69,498.34 421.35,500.12 424.39,502.29 427.42,504.57 433.12,509.08 444.88,518.80 450.19,523.10 455.89,527.50 461.20,531.37 467.27,535.46 473.34,539.21 479.79,542.84 487.00,546.59 492.70,549.39 507.88,556.65 515.85,560.53 541.65,573.56 550.38,577.88 560.25,582.53 569.36,586.55 576.19,589.38 582.64,591.90 589.09,594.26 595.16,596.34 601.23,598.25 606.93,599.88 612.62,601.35 618.31,602.62 624.38,603.77 630.46,604.69 636.53,605.38 642.98,605.87 649.05,606.13 655.50,606.23 662.71,606.19 679.03,605.88 686.62,605.81 694.97,605.89 702.94,606.16 710.53,606.59 718.88,607.24 747.72,610.05 760.62,611.14 767.45,611.61 774.67,612.01 781.88,612.33 789.47,612.58 807.30,612.92 831.21,613.07 990.98,613.10" class="ln"/></g><g id="r-suv"><path d="M216.42,702.33 223.25,701.69 229.70,700.84 236.53,699.64 243.74,698.11 253.99,695.60 264.24,692.83 268.03,691.69 271.45,690.58 274.48,689.51 277.14,688.47 281.32,686.62 285.49,684.46 289.28,682.18 293.08,679.56 296.87,676.60 300.67,673.27 304.46,669.56 307.88,665.91 311.68,661.48 315.47,656.65 319.27,651.41 323.06,645.78 326.48,640.37 330.27,634.05 341.28,614.72 345.07,608.25 347.35,604.56 349.25,601.64 351.14,598.90 352.66,596.85 354.94,594.04 356.84,591.97 359.11,589.84 361.01,588.37 362.15,587.64 363.29,587.01 365.18,586.21 367.08,585.71 368.22,585.55 369.36,585.51 370.50,585.57 371.64,585.73 372.77,586.00 374.29,586.52 375.43,587.01 376.57,587.60 377.71,588.28 379.23,589.32 381.88,591.47 384.54,594.01 387.58,597.34 390.61,601.06 393.27,604.58 395.92,608.31 398.96,612.81 402.00,617.51 407.69,626.74 420.97,648.99 424.01,653.89 427.04,658.60 430.08,663.07 433.12,667.24 436.15,671.08 438.81,674.13 441.84,677.27 444.50,679.68 447.54,682.07 450.57,684.08 453.61,685.73 456.64,687.04 459.68,688.04 463.10,688.86 465.75,689.28 468.41,689.56 471.07,689.72 474.10,689.76 480.17,689.56 494.59,688.54 501.43,688.23 505.22,688.19 509.02,688.27 512.81,688.47 516.23,688.76 519.64,689.16 523.44,689.71 527.23,690.37 531.03,691.13 538.24,692.77 552.66,696.37 558.73,697.82 565.18,699.20 571.25,700.31 578.08,701.30 585.29,702.06 592.88,702.59 L592.9,703.5 L216.4,703.5Z" fill="#1f77b4"/><path d="M80.56,703.20 189.86,703.15 198.20,703.06 205.04,702.91 211.11,702.66 216.42,702.33 223.25,701.69 229.70,700.84 236.53,699.64 243.74,698.11 253.99,695.60 264.24,692.83 268.03,691.69 271.45,690.58 274.48,689.51 277.14,688.47 281.32,686.62 285.49,684.46 289.28,682.18 293.08,679.56 296.87,676.60 300.67,673.27 304.46,669.56 307.88,665.91 311.68,661.48 315.47,656.65 319.27,651.41 323.06,645.78 326.48,640.37 330.27,634.05 341.28,614.72 345.07,608.25 347.35,604.56 349.25,601.64 351.14,598.90 352.66,596.85 354.94,594.04 356.84,591.97 359.11,589.84 361.01,588.37 362.15,587.64 363.29,587.01 365.18,586.21 367.08,585.71 368.22,585.55 369.36,585.51 370.50,585.57 371.64,585.73 372.77,586.00 374.29,586.52 375.43,587.01 376.57,587.60 377.71,588.28 379.23,589.32 381.88,591.47 384.54,594.01 387.58,597.34 390.61,601.06 393.27,604.58 395.92,608.31 398.96,612.81 402.00,617.51 407.69,626.74 420.97,648.99 424.01,653.89 427.04,658.60 430.08,663.07 433.12,667.24 436.15,671.08 438.81,674.13 441.84,677.27 444.50,679.68 447.54,682.07 450.57,684.08 453.61,685.73 456.64,687.04 459.68,688.04 463.10,688.86 465.75,689.28 468.41,689.56 471.07,689.72 474.10,689.76 480.17,689.56 494.59,688.54 501.43,688.23 505.22,688.19 509.02,688.27 512.81,688.47 516.23,688.76 519.64,689.16 523.44,689.71 527.23,690.37 531.03,691.13 538.24,692.77 552.66,696.37 558.73,697.82 565.18,699.20 571.25,700.31 578.08,701.30 585.29,702.06 592.88,702.59 601.61,702.93 614.14,703.13 633.87,703.20 990.98,703.20" class="ln"/><path d="M167.09,702.42 171.64,701.92 176.19,701.21 180.37,700.33 184.54,699.20 188.72,697.80 192.51,696.29 196.31,694.50 199.72,692.63 202.76,690.71 205.42,688.79 208.07,686.60 210.73,684.10 213.01,681.66 215.28,678.93 217.56,675.89 219.84,672.51 221.73,669.44 223.63,666.15 225.53,662.65 227.81,658.19 231.60,650.27 240.33,631.37 242.99,625.91 245.26,621.49 247.92,616.69 250.58,612.32 253.23,608.38 255.89,604.85 257.79,602.55 260.06,600.00 262.34,597.64 264.62,595.43 267.65,592.64 270.69,589.99 273.73,587.47 276.76,585.11 279.04,583.48 280.94,582.25 282.83,581.17 284.35,580.44 285.87,579.84 287.39,579.39 288.91,579.10 290.42,579.00 291.56,579.05 292.70,579.21 294.60,579.74 296.50,580.61 298.39,581.84 300.29,583.41 301.43,584.53 302.57,585.77 304.46,588.10 306.74,591.33 308.64,594.35 310.54,597.64 312.43,601.18 314.71,605.70 318.89,614.58 327.23,633.24 330.65,640.66 334.07,647.67 337.48,654.11 339.76,658.03 341.66,661.05 343.55,663.83 345.45,666.35 347.35,668.63 349.25,670.66 351.14,672.44 353.04,673.99 354.18,674.81 355.70,675.78 356.84,676.43 358.35,677.18 361.01,678.24 364.05,679.10 366.32,679.57 368.98,679.96 381.12,681.10 384.54,681.52 387.58,681.98 391.37,682.67 395.54,683.56 399.72,684.57 403.89,685.70 409.97,687.53 415.66,689.50 420.59,691.38 431.98,695.96 437.67,698.04 441.08,699.12 444.12,699.97 447.16,700.69 450.19,701.29 453.23,701.78 456.26,702.17 459.68,702.50 L459.7,704.1 L167.1,704.1Z" fill="#ff7f0e"/><path d="M80.56,703.20 147.73,703.15 158.74,702.92 163.29,702.70 167.09,702.42 171.64,701.92 176.19,701.21 180.37,700.33 184.54,699.20 188.72,697.80 192.51,696.29 196.31,694.50 199.72,692.63 202.76,690.71 205.42,688.79 208.07,686.60 210.73,684.10 213.01,681.66 215.28,678.93 217.56,675.89 219.84,672.51 221.73,669.44 223.63,666.15 225.53,662.65 227.81,658.19 231.60,650.27 240.33,631.37 242.99,625.91 245.26,621.49 247.92,616.69 250.58,612.32 253.23,608.38 255.89,604.85 257.79,602.55 260.06,600.00 262.34,597.64 264.62,595.43 267.65,592.64 270.69,589.99 273.73,587.47 276.76,585.11 279.04,583.48 280.94,582.25 282.83,581.17 284.35,580.44 285.87,579.84 287.39,579.39 288.91,579.10 290.42,579.00 291.56,579.05 292.70,579.21 294.60,579.74 296.50,580.61 298.39,581.84 300.29,583.41 301.43,584.53 302.57,585.77 304.46,588.10 306.74,591.33 308.64,594.35 310.54,597.64 312.43,601.18 314.71,605.70 318.89,614.58 327.23,633.24 330.65,640.66 334.07,647.67 337.48,654.11 339.76,658.03 341.66,661.05 343.55,663.83 345.45,666.35 347.35,668.63 349.25,670.66 351.14,672.44 353.04,673.99 354.18,674.81 355.70,675.78 356.84,676.43 358.35,677.18 361.01,678.24 364.05,679.10 366.32,679.57 368.98,679.96 381.12,681.10 384.54,681.52 387.58,681.98 391.37,682.67 395.54,683.56 399.72,684.57 403.89,685.70 409.97,687.53 415.66,689.50 420.59,691.38 431.98,695.96 437.67,698.04 441.08,699.12 444.12,699.97 447.16,700.69 450.19,701.29 453.23,701.78 456.26,702.17 459.68,702.50 463.48,702.76 471.82,703.06 483.97,703.18 990.98,703.20" class="ln"/></g>
<circle cx="41.5" cy="-1.5" r="3.6" fill="#262626"/>
<g class="xticks"><text transform="translate(229.0,722.3) scale(0.87,1)" text-anchor="middle">10</text><text transform="translate(414.8,722.3) scale(0.87,1)" text-anchor="middle">20</text><text transform="translate(600.6,722.3) scale(0.87,1)" text-anchor="middle">30</text><text transform="translate(786.4,722.3) scale(0.87,1)" text-anchor="middle">40</text><text transform="translate(972.2,722.3) scale(0.87,1)" text-anchor="middle">50</text></g>
<rect x="836" y="688" width="188" height="27.9" fill="#fff"/>
<g class="ylabels"><text transform="translate(69.9,167.4) scale(0.87,1)" text-anchor="end">2seater</text><text transform="translate(69.9,256.7) scale(0.87,1)" text-anchor="end">compact</text><text transform="translate(69.9,347.8) scale(0.87,1)" text-anchor="end">midsize</text><text transform="translate(69.9,437.9) scale(0.87,1)" text-anchor="end">minivan</text><text transform="translate(69.9,527.0) scale(0.87,1)" text-anchor="end">pickup</text><text transform="translate(69.9,617.1) scale(0.87,1)" text-anchor="end">subcompact</text><text transform="translate(69.9,707.7) scale(0.87,1)" text-anchor="end">suv</text></g>
</svg>
</body></html>
